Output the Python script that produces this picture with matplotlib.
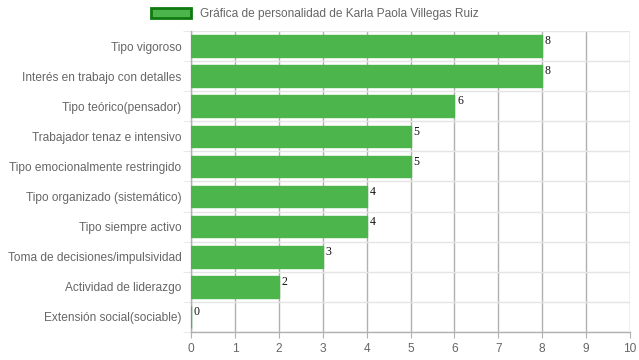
import numpy as np
import matplotlib.pyplot as plt
from matplotlib.patches import Patch

categories = [
    "Tipo vigoroso",
    "Interés en trabajo con detalles",
    "Tipo teórico(pensador)",
    "Trabajador tenaz e intensivo",
    "Tipo emocionalmente restringido",
    "Tipo organizado (sistemático)",
    "Tipo siempre activo",
    "Toma de decisiones/impulsividad",
    "Actividad de liderazgo",
    "Extensión social(sociable)",
]
values = [8, 8, 6, 5, 5, 4, 4, 3, 2, 0]
series_label = "Gráfica de personalidad de Karla Paola Villegas Ruiz"

plt.rcParams['font.family'] = ['Liberation Sans', 'DejaVu Sans']

fig = plt.figure(figsize=(6.39, 3.6), dpi=100)
ax = fig.add_axes([191 / 639, 1 - 332 / 360, 439 / 639, 301 / 360])

y = np.arange(len(categories))
ax.barh(y, values, height=0.72, color="#4cb54c", edgecolor="#4cb54c", zorder=3)

for yi, v in zip(y, values):
    ax.annotate(str(v), xy=(v, yi - 0.36), xytext=(2, 0), textcoords="offset points",
                ha="left", va="top", fontsize=8.5, family=["Liberation Serif", "DejaVu Serif"],
                color="#111111", zorder=4)

ax.set_xlim(0, 10)
ax.set_ylim(len(categories) - 0.5, -0.5)
ax.set_xticks(np.arange(0, 11, 1))
ax.set_yticks(y)
ax.set_yticklabels(categories)
ax.set_yticks(np.arange(-0.5, len(categories), 1), minor=True)

ax.grid(True, axis="x", color="#b0b0b0", linewidth=1, zorder=0)
ax.grid(True, axis="y", which="minor", color="#e5e5e5", linewidth=1, zorder=0)
ax.tick_params(axis="y", which="major", length=0, pad=7, labelsize=8.6, labelcolor="#666666")
ax.tick_params(axis="y", which="minor", length=6, color="#e5e5e5")
ax.tick_params(axis="x", length=4, color="#b0b0b0", pad=4, labelsize=8.6, labelcolor="#666666")

for side in ["top", "right"]:
    ax.spines[side].set_visible(False)
for side in ["left", "bottom"]:
    ax.spines[side].set_color("#b0b0b0")
    ax.spines[side].set_linewidth(1)

handle = Patch(facecolor="#4cb54c", edgecolor="#0f7a0f", linewidth=2)
fig.legend([handle], [series_label], loc="center", bbox_to_anchor=(0.493, 0.961),
           frameon=False, fontsize=8.6, labelcolor="#666666",
           handlelength=3.3, handleheight=0.9, handletextpad=0.75)

fig.savefig("out.png", dpi=100)
